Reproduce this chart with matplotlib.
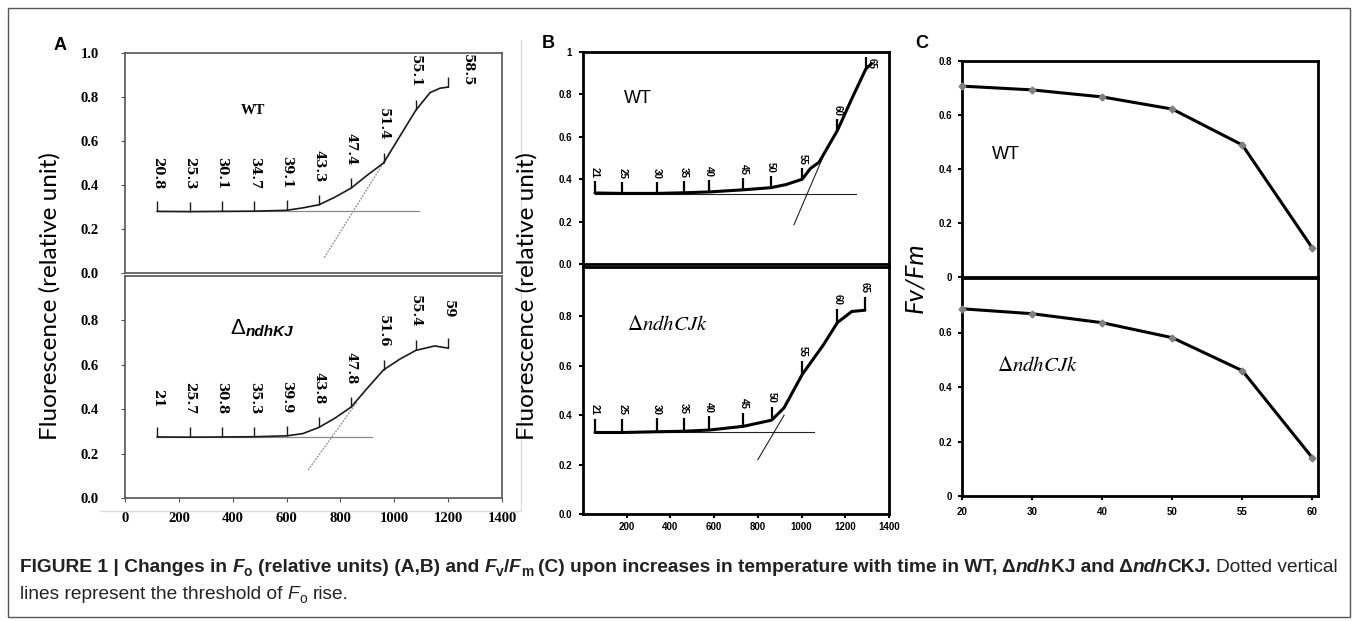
import numpy as np
import matplotlib.pyplot as plt
from matplotlib import font_manager
from matplotlib.patches import Rectangle
from matplotlib.lines import Line2D

W, H = 1358, 621

# panel A: Fo traces (time in s), temperature marks every 120 s
a_marks = [120, 240, 360, 480, 600, 720, 840, 960, 1080, 1200]
a_wt_temps = ["20.8", "25.3", "30.1", "34.7", "39.1", "43.3", "47.4", "51.4", "55.1", "58.5"]
a_kj_temps = ["21", "25.7", "30.8", "35.3", "39.9", "43.8", "47.8", "51.6", "55.4", "59"]
a_wt_t = [120, 240, 360, 480, 600, 660, 720, 780, 840, 900, 960, 1020, 1080, 1133, 1170, 1200]
a_wt_f = [0.28, 0.279, 0.28, 0.281, 0.285, 0.296, 0.31, 0.345, 0.386, 0.445, 0.50, 0.62, 0.74, 0.82, 0.84, 0.845]
a_kj_t = [120, 240, 360, 480, 600, 660, 720, 780, 840, 900, 960, 1020, 1080, 1150, 1200]
a_kj_f = [0.275, 0.274, 0.275, 0.276, 0.28, 0.29, 0.318, 0.36, 0.41, 0.495, 0.577, 0.625, 0.665, 0.685, 0.675]
a_wt_base_t, a_wt_base_f = [120, 1090], [0.28, 0.28]
a_wt_tan_t, a_wt_tan_f = [740, 990], [0.07, 0.56]
a_kj_base_t, a_kj_base_f = [120, 917], [0.275, 0.275]
a_kj_tan_t, a_kj_tan_f = [680, 860], [0.126, 0.43]

# panel B
b_temps = ["21", "25", "30", "35", "40", "45", "50", "55", "60", "65"]
b_wt_marks = [55, 180, 337, 462, 578, 734, 860, 1003, 1164, 1294]
b_kj_marks = [55, 180, 337, 462, 578, 734, 863, 1003, 1164, 1290]
b_wt_t = [55, 180, 337, 462, 578, 734, 860, 930, 1003, 1040, 1080, 1164, 1230, 1294, 1320]
b_wt_f = [0.335, 0.333, 0.333, 0.336, 0.34, 0.35, 0.36, 0.375, 0.40, 0.45, 0.48, 0.63, 0.78, 0.92, 0.945]
b_kj_t = [55, 180, 337, 462, 578, 734, 863, 920, 1003, 1100, 1164, 1230, 1290]
b_kj_f = [0.33, 0.33, 0.333, 0.335, 0.34, 0.355, 0.38, 0.43, 0.565, 0.685, 0.775, 0.82, 0.825]
b_wt_base_t, b_wt_base_f = [55, 1247], [0.33, 0.33]
b_wt_tan_t, b_wt_tan_f = [965, 1100], [0.185, 0.51]
b_kj_base_t, b_kj_base_f = [55, 1058], [0.33, 0.33]
b_kj_tan_t, b_kj_tan_f = [800, 920], [0.22, 0.40]

# panel C: Fv/Fm
c_temps = ["20", "30", "40", "50", "55", "60"]
c_wt = [0.707, 0.693, 0.667, 0.622, 0.489, 0.107]
c_kj = [0.687, 0.669, 0.636, 0.581, 0.46, 0.14]

names = {f.name for f in font_manager.fontManager.ttflist}
cap_font = "Liberation Sans Narrow" if "Liberation Sans Narrow" in names else "Liberation Sans"

fig = plt.figure(figsize=(W / 100, H / 100), dpi=100)
renderer = fig.canvas.get_renderer()


def px_axes(x0, y0, x1, y1):
    return fig.add_axes([x0 / W, 1 - y1 / H, (x1 - x0) / W, (y1 - y0) / H])


# ---------------- panel A ----------------
def draw_a(ax, t, f, temps, base_t, base_f, tan_t, tan_f, last_shift=(0, 0)):
    ax.plot(base_t, base_f, color="#8a8a8a", lw=0.9)
    ax.plot(tan_t, tan_f, color="#8a8a8a", lw=0.9, ls=(0, (1.5, 1)))
    ax.plot(t, f, color="#1a1a1a", lw=1.2)
    f_at = np.interp(a_marks, t, f)
    ax.vlines(a_marks, f_at, f_at + 0.045, color="#1a1a1a", lw=1)
    for i, (m, y0, lab) in enumerate(zip(a_marks, f_at, temps)):
        dx, dy = last_shift if i == len(a_marks) - 1 else (0, 0)
        ax.text(m + dx, y0 + 0.175 + dy, lab, rotation=270, ha="center", va="center",
                family="DejaVu Serif", weight="bold", fontsize=9.5)


def style_a(ax, lower):
    ax.set_xlim(0, 1400)
    ax.set_ylim(0, 1)
    for s in ax.spines.values():
        s.set_color("#555555")
        s.set_linewidth(1.2)
    yt = [0, 0.2, 0.4, 0.6, 0.8] + ([] if lower else [1.0])
    ax.set_yticks(yt, [f"{v:.1f}" for v in yt], family="Liberation Serif", weight="bold", fontsize=10.5)
    ax.tick_params(axis="y", direction="out", length=3, color="#555555", pad=16)
    if lower:
        xt = list(range(0, 1401, 200))
        ax.set_xticks(xt, [str(v) for v in xt], family="Liberation Serif", weight="bold", fontsize=10.5)
        ax.tick_params(axis="x", direction="out", length=3, color="#555555", pad=7)
    else:
        ax.set_xticks([])


ax_a1 = px_axes(125, 53, 502, 273)
ax_a2 = px_axes(125, 276, 502, 498)
style_a(ax_a1, False)
style_a(ax_a2, True)
draw_a(ax_a1, a_wt_t, a_wt_f, a_wt_temps, a_wt_base_t, a_wt_base_f, a_wt_tan_t, a_wt_tan_f,
       last_shift=(70, -0.1))
draw_a(ax_a2, a_kj_t, a_kj_f, a_kj_temps, a_kj_base_t, a_kj_base_f, a_kj_tan_t, a_kj_tan_f)
ax_a1.text(477, 0.74, "WT", ha="center", va="center", family="Liberation Serif", weight="bold", fontsize=10.5)
ax_a2.text(418, 0.765, "\u0394", ha="center", va="center", family="Liberation Sans", fontsize=16)
ax_a2.text(450, 0.75, "ndhKJ", ha="left", va="center", family="Liberation Sans",
           weight="bold", style="italic", fontsize=11)

# ---------------- panel B ----------------
def draw_b(ax, marks, t, f, base_t, base_f, tan_t, tan_f, last_shift=(0, 0)):
    ax.plot(base_t, base_f, color="#222222", lw=0.8)
    ax.plot(tan_t, tan_f, color="#222222", lw=0.8)
    ax.plot(t, f, color="black", lw=2.2, solid_capstyle="round")
    f_at = np.interp(marks, t, f)
    ax.vlines(marks, f_at, f_at + 0.055, color="black", lw=1.6)
    for i, (m, y0, lab) in enumerate(zip(marks, f_at, b_temps)):
        dx, dy = last_shift if i == len(marks) - 1 else (0, 0)
        ax.text(m + dx, y0 + 0.07 + dy, lab, rotation=270, ha="center", va="bottom",
                family="Liberation Sans", weight="bold", fontsize=7)


def style_b(ax, lower):
    ax.set_xlim(0, 1400)
    ax.set_ylim(0, 1)
    for s in ax.spines.values():
        s.set_color("black")
        s.set_linewidth(2)
    yt = [0, 0.2, 0.4, 0.6, 0.8] + ([] if lower else [1.0])
    labs = ["0.0", "0.2", "0.4", "0.6", "0.8"] + ([] if lower else ["1"])
    ax.set_yticks(yt, labs, family="Liberation Sans", weight="bold", fontsize=7)
    ax.tick_params(axis="y", direction="out", length=3, width=1.5, pad=5)
    if lower:
        xt = list(range(200, 1401, 200))
        ax.set_xticks(xt, [str(v) for v in xt], family="Liberation Sans", weight="bold", fontsize=7)
        ax.tick_params(axis="x", direction="out", length=3, width=1.5, pad=3)
    else:
        ax.set_xticks([])


ax_b1 = px_axes(583, 52, 889, 264)
ax_b2 = px_axes(583, 267, 889, 514)
style_b(ax_b1, False)
style_b(ax_b2, True)
draw_b(ax_b1, b_wt_marks, b_wt_t, b_wt_f, b_wt_base_t, b_wt_base_f, b_wt_tan_t, b_wt_tan_f,
       last_shift=(25, -0.07))
draw_b(ax_b2, b_kj_marks, b_kj_t, b_kj_f, b_kj_base_t, b_kj_base_f, b_kj_tan_t, b_kj_tan_f)
ax_b1.text(250, 0.78, "WT", ha="center", va="center", family="Liberation Sans", fontsize=13)
ax_b2.text(200, 0.77, r"$\Delta\mathit{ndhCJk}$", ha="left", va="center", fontsize=15, math_fontfamily="stix")

# ---------------- panel C ----------------
def style_c(ax, lower):
    ax.set_xlim(0, 5.08)
    ax.set_ylim(0, 0.8)
    for s in ax.spines.values():
        s.set_color("black")
        s.set_linewidth(2)
    yt = [0, 0.2, 0.4, 0.6] + ([] if lower else [0.8])
    labs = ["0", "0.2", "0.4", "0.6"] + ([] if lower else ["0.8"])
    ax.set_yticks(yt, labs, family="Liberation Sans", weight="bold", fontsize=7)
    ax.tick_params(axis="y", direction="out", length=3, width=1.5, pad=4)
    if lower:
        ax.set_xticks(range(len(c_temps)), c_temps, family="Liberation Sans", weight="bold", fontsize=7)
        ax.tick_params(axis="x", direction="out", length=3, width=1.5, pad=5)
    else:
        ax.set_xticks([])


ax_c1 = px_axes(962, 61, 1318, 277)
ax_c2 = px_axes(962, 278, 1318, 496)
style_c(ax_c1, False)
style_c(ax_c2, True)
for ax, vals in [(ax_c1, c_wt), (ax_c2, c_kj)]:
    ax.plot(range(len(vals)), vals, color="black", lw=2.2, marker="D", markersize=3.5,
            markerfacecolor="#808080", markeredgecolor="#808080", clip_on=False, zorder=3)
ax_c1.text(0.63, 0.455, "WT", ha="center", va="center", family="Liberation Sans", fontsize=13)
ax_c2.text(0.5, 0.48, r"$\Delta\mathit{ndhCJk}$", ha="left", va="center", fontsize=15, math_fontfamily="stix")

# ---------------- labels, frames ----------------
fig.text(50 / W, 1 - 296 / H, "Fluorescence (relative unit)", rotation=90, ha="center", va="center",
         family="Lato", fontsize=17.5)
fig.text(527 / W, 1 - 296 / H, "Fluorescence (relative unit)", rotation=90, ha="center", va="center",
         family="Lato", fontsize=17.5)
fig.text(915 / W, 1 - 278 / H, "Fv/Fm", rotation=90, ha="center", va="center",
         family="Lato", style="italic", fontsize=18.5)
for lab, x, y in [("A", 60, 45), ("B", 548, 43), ("C", 922, 43)]:
    fig.text(x / W, 1 - y / H, lab, ha="center", va="center", family="Liberation Sans",
             weight="bold", fontsize=13)

fig.add_artist(Line2D([100 / W, 521 / W, 521 / W], [1 - 511 / H, 1 - 511 / H, 1 - 40 / H],
                      color="#dcdcdc", lw=1))
fig.add_artist(Rectangle((8 / W, 1 - 617 / H), (1350 - 8) / W, (617 - 8) / H,
                         transform=fig.transFigure, fill=False, ec="#555555", lw=1))


# ---------------- caption ----------------
def text_w(s, **kw):
    t = fig.text(0, 0, s, **kw)
    w = t.get_window_extent(renderer).width
    t.remove()
    return w


def draw_runs(x, y, runs, size, draw=True):
    for s, weight, style, sub in runs:
        kw = dict(fontsize=size * 0.72 if sub else size, fontweight=weight, fontstyle=style, family=cap_font)
        sp = text_w("a a", **kw) - text_w("aa", **kw)
        core = s.strip(" ")
        x += (len(s) - len(s.lstrip(" "))) * sp
        if core:
            yy = y + size * 1.389 * 0.22 if sub else y
            t = fig.text(x / W, 1 - yy / H, core, va="baseline", color="#222222", **kw)
            x += t.get_window_extent(renderer).width
            if not draw:
                t.remove()
        x += (len(s) - len(s.rstrip(" "))) * sp
    return x


line1 = [
    ("FIGURE 1 | Changes in ", "bold", "normal", False),
    ("F", "bold", "italic", False), ("o", "bold", "normal", True),
    (" (relative units) (A,B) and ", "bold", "normal", False),
    ("F", "bold", "italic", False), ("v", "bold", "normal", True),
    ("/", "bold", "normal", False),
    ("F", "bold", "italic", False), ("m", "bold", "normal", True),
    (" (C) upon increases in temperature with time in WT, \u0394", "bold", "normal", False),
    ("ndh", "bold", "italic", False),
    ("KJ and \u0394", "bold", "normal", False),
    ("ndh", "bold", "italic", False),
    ("CKJ.", "bold", "normal", False),
    (" Dotted vertical", "normal", "normal", False),
]
line2 = [
    ("lines represent the threshold of ", "normal", "normal", False),
    ("F", "normal", "italic", False), ("o", "normal", "normal", True),
    (" rise.", "normal", "normal", False),
]
width10 = draw_runs(20, 572, line1, 10, draw=False) - 20
cap_size = 10 * 1318 / width10
draw_runs(20, 572, line1, cap_size)
draw_runs(20, 599, line2, cap_size)

fig.savefig("out.png", dpi=100)
